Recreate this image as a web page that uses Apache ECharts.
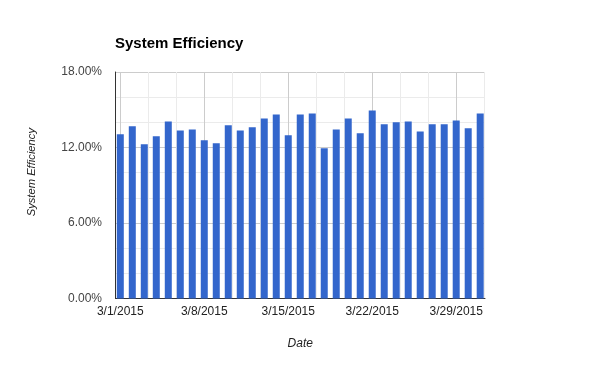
<!DOCTYPE html>
<html>
<head>
<meta charset="utf-8">
<script src="https://cdn.jsdelivr.net/npm/echarts@6/dist/echarts.min.js"></script>
<style>
html,body{margin:0;padding:0;background:#fff;}
#chart{width:600px;height:371px;}
</style>
</head>
<body>
<div id="chart"></div>
<script>
// Dates (categories)
var dates = ["3/1/2015","3/2/2015","3/3/2015","3/4/2015","3/5/2015","3/6/2015","3/7/2015",
  "3/8/2015","3/9/2015","3/10/2015","3/11/2015","3/12/2015","3/13/2015","3/14/2015",
  "3/15/2015","3/16/2015","3/17/2015","3/18/2015","3/19/2015","3/20/2015","3/21/2015",
  "3/22/2015","3/23/2015","3/24/2015","3/25/2015","3/26/2015","3/27/2015","3/28/2015",
  "3/29/2015","3/30/2015","3/31/2015"];
// System efficiency (%)
var efficiency = [13.05,13.68,12.26,12.89,14.07,13.36,13.44,12.57,12.33,13.76,13.36,13.60,14.31,14.63,
  12.97,14.63,14.71,11.94,13.44,14.31,13.13,14.94,13.84,14.00,14.07,13.28,13.84,13.84,14.15,13.52,14.71];
// Labeled x ticks (day numbers) and y ticks
var xTickDays = [1, 8, 15, 22, 29];
var yTicks = [0, 6, 12, 18];

var points = dates.map(function (d, i) { return [i + 1, efficiency[i]]; });
var minorDays = [];
xTickDays.forEach(function (d) { minorDays.push(d + 7 / 3, d + 14 / 3); });

var chart = echarts.init(document.getElementById('chart'), null, {renderer: 'canvas'});
chart.setOption({
  animation: false,
  backgroundColor: '#fff',
  title: {
    text: 'System Efficiency',
    left: 115, top: 36, padding: 0,
    textStyle: {fontFamily: 'Arial, Liberation Sans, sans-serif', fontSize: 15, fontWeight: 'bold', color: '#000'}
  },
  grid: {left: 115.5, right: 115, top: 72, bottom: 72.5, containLabel: false},
  xAxis: [{
    type: 'value', min: 0.6, max: 31.4,
    name: 'Date', nameLocation: 'middle', nameGap: 39,
    nameTextStyle: {fontFamily: 'Arial, Liberation Sans, sans-serif', fontSize: 12, fontStyle: 'italic', color: '#222'},
    axisLine: {show: true, onZero: false, lineStyle: {color: '#333', width: 1}},
    axisTick: {show: false, customValues: xTickDays},
    axisLabel: {
      customValues: xTickDays, margin: 7,
      fontFamily: 'Arial, Liberation Sans, sans-serif', fontSize: 12, color: '#222',
      formatter: function (v) { return dates[Math.round(v) - 1]; }
    },
    splitLine: {show: true, lineStyle: {color: '#cccccc', width: 1}}
  }, {
    type: 'value', min: 0.6, max: 31.4, position: 'bottom',
    axisLine: {show: false}, axisLabel: {show: false},
    axisTick: {show: false, customValues: minorDays},
    splitLine: {show: true, lineStyle: {color: '#ebebeb', width: 1}}
  }],
  yAxis: {
    type: 'value', min: 0, max: 18, interval: 6,
    axisLine: {show: true, lineStyle: {color: '#333', width: 1}},
    axisTick: {show: false},
    axisLabel: {
      margin: 13.5, fontFamily: 'Arial, Liberation Sans, sans-serif', fontSize: 12, color: '#444',
      formatter: function (v) { return v.toFixed(2) + '%'; }
    },
    splitLine: {show: true, lineStyle: {color: '#cccccc', width: 1}},
    minorTick: {show: false, splitNumber: 3},
    minorSplitLine: {show: true, lineStyle: {color: '#ebebeb', width: 1}}
  },
  graphic: [{
    type: 'text', left: 26, top: 128, rotation: Math.PI / 2,
    style: {text: 'System Efficiency', fontFamily: 'Arial, Liberation Sans, sans-serif', fontSize: 11.2, fontStyle: 'italic', fill: '#222'}
  }],
  series: [{
    type: 'bar', xAxisIndex: 0, data: points, barWidth: 7,
    itemStyle: {color: '#3366cc'}, z: 3
  }]
});
</script>
</body>
</html>
